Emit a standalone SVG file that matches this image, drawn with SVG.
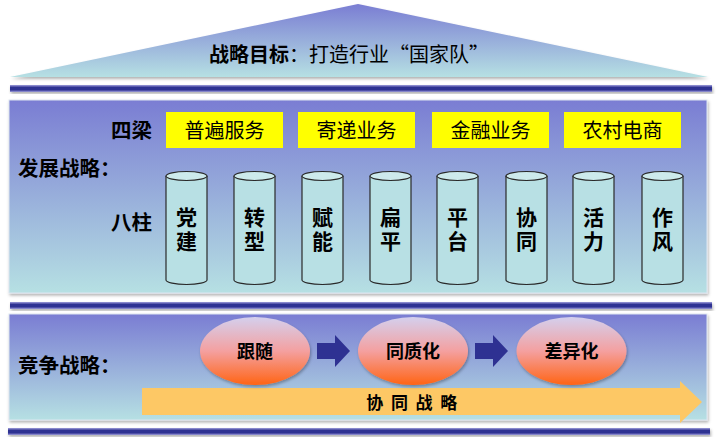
<svg xmlns="http://www.w3.org/2000/svg" width="720" height="445" viewBox="0 0 720 445">
<defs>
<linearGradient id="gPanel" x1="0" y1="0" x2="0" y2="1">
<stop offset="0" stop-color="#7a7dd3"/>
<stop offset="1" stop-color="#b6e0e3"/>
</linearGradient>
<linearGradient id="gBar" x1="0" y1="0" x2="0" y2="1">
<stop offset="0" stop-color="#a0a0dc"/>
<stop offset="0.35" stop-color="#2f3192"/>
<stop offset="0.7" stop-color="#2f3192"/>
<stop offset="1" stop-color="#a0a0dc"/>
</linearGradient>
<linearGradient id="gEll" x1="0" y1="0" x2="0" y2="1">
<stop offset="0" stop-color="#d4d0ee"/>
<stop offset="0.5" stop-color="#f4a0a0"/>
<stop offset="1" stop-color="#ff6414"/>
</linearGradient>
<filter id="sh" x="-5%" y="-20%" width="110%" height="140%">
<feDropShadow dx="1" dy="2" stdDeviation="1.5" flood-color="#000" flood-opacity="0.3"/>
</filter>
<g id="cyl">
<path d="M0,0 V104 A20.5,4.5 0 0 0 41,104 V0" fill="#b8e0e4" stroke="#2a2a2a" stroke-width="1.2"/>
<ellipse cx="20.5" cy="0" rx="20.5" ry="4.5" fill="#cdeaec" stroke="#2a2a2a" stroke-width="1.2"/>
</g>
</defs>
<style>
text{font-family:"Liberation Sans","Noto Sans CJK SC",sans-serif;fill:#000}
.b{font-weight:bold}
.lbl{font-size:20.5px;font-weight:bold}
.yb{fill:#ffff00}
.yt{font-size:20px;text-anchor:middle}
.ct{font-size:21px;font-weight:bold;text-anchor:middle}
.et{font-size:18px;font-weight:bold;text-anchor:middle}
.bar{fill:url(#gBar)}
</style>
<rect width="720" height="445" fill="#ffffff"/>
<g id="roof">
<polygon points="10,77 358,4 708,77" fill="url(#gPanel)" filter="url(#sh)"/>
<text x="349" y="62" font-size="20" text-anchor="middle" style="font-family:'Noto Sans CJK SC',sans-serif"><tspan class="b">战略目标</tspan>：打造行业“国家队”</text>
</g>
<g id="bars">
<rect class="bar" x="10" y="85" width="702" height="7" filter="url(#sh)"/>
<rect class="bar" x="10" y="302" width="702" height="7" filter="url(#sh)"/>
<rect class="bar" x="8" y="428" width="702" height="7" filter="url(#sh)"/>
</g>
<g id="panel-dev">
<rect x="9" y="100" width="698" height="193" fill="url(#gPanel)" stroke="#dde6f0" stroke-width="1" filter="url(#sh)"/>
<text x="111" y="138" class="lbl">四梁</text>
<text x="18" y="176" class="lbl">发展战略：</text>
<text x="111" y="230" class="lbl">八柱</text>
</g>
<g id="beams">
<g id="beam1"><rect class="yb" x="166" y="112" width="117" height="36"/><text class="yt" x="224.5" y="137.5">普遍服务</text></g>
<g id="beam2"><rect class="yb" x="298" y="112" width="117" height="36"/><text class="yt" x="356.5" y="137.5">寄递业务</text></g>
<g id="beam3"><rect class="yb" x="432" y="112" width="117" height="36"/><text class="yt" x="490.5" y="137.5">金融业务</text></g>
<g id="beam4"><rect class="yb" x="564" y="112" width="117" height="36"/><text class="yt" x="622.5" y="137.5">农村电商</text></g>
</g>
<g id="pillars">
<g id="p1"><use href="#cyl" x="166" y="176"/><text class="ct" x="186.5" y="225">党</text><text class="ct" x="186.5" y="249">建</text></g>
<g id="p2"><use href="#cyl" x="234" y="176"/><text class="ct" x="254.5" y="225">转</text><text class="ct" x="254.5" y="249">型</text></g>
<g id="p3"><use href="#cyl" x="302" y="176"/><text class="ct" x="322.5" y="225">赋</text><text class="ct" x="322.5" y="249">能</text></g>
<g id="p4"><use href="#cyl" x="370" y="176"/><text class="ct" x="390.5" y="225">扁</text><text class="ct" x="390.5" y="249">平</text></g>
<g id="p5"><use href="#cyl" x="437" y="176"/><text class="ct" x="457.5" y="225">平</text><text class="ct" x="457.5" y="249">台</text></g>
<g id="p6"><use href="#cyl" x="506" y="176"/><text class="ct" x="526.5" y="225">协</text><text class="ct" x="526.5" y="249">同</text></g>
<g id="p7"><use href="#cyl" x="573" y="176"/><text class="ct" x="593.5" y="225">活</text><text class="ct" x="593.5" y="249">力</text></g>
<g id="p8"><use href="#cyl" x="642" y="176"/><text class="ct" x="662.5" y="225">作</text><text class="ct" x="662.5" y="249">风</text></g>
</g>
<g id="panel-comp">
<rect x="9" y="314" width="698" height="106" fill="url(#gPanel)" stroke="#dde6f0" stroke-width="1" filter="url(#sh)"/>
<text x="18" y="373" class="lbl">竞争战略：</text>
</g>
<g id="synergy">
<polygon points="142,388 680,388 680,381 702,402 680,423 680,415 142,415" fill="#fdc865"/>
<text x="412.5" y="409" font-size="17" font-weight="bold" text-anchor="middle" letter-spacing="1.5">协 同 战 略</text>
</g>
<g id="connectors">
<polygon points="317,343 335,343 335,335 350,351 335,367 335,359 317,359" fill="#2e3192"/>
<polygon points="475,343 493,343 493,335 508,351 493,367 493,359 475,359" fill="#2e3192"/>
</g>
<g id="n-follow"><ellipse cx="255" cy="351" rx="55" ry="34" fill="url(#gEll)" filter="url(#sh)"/><text class="et" x="255" y="358">跟随</text></g>
<g id="n-homo"><ellipse cx="413" cy="351" rx="55" ry="34" fill="url(#gEll)" filter="url(#sh)"/><text class="et" x="413" y="358">同质化</text></g>
<g id="n-diff"><ellipse cx="571.5" cy="351" rx="55" ry="34" fill="url(#gEll)" filter="url(#sh)"/><text class="et" x="571.5" y="358">差异化</text></g>
</svg>
